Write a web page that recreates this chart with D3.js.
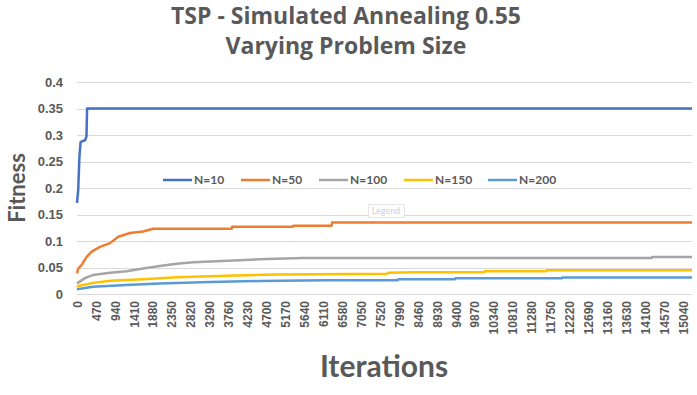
<!DOCTYPE html>
<html lang="en">
<head>
  <meta charset="UTF-8">
  <title>TSP - Simulated Annealing 0.55</title>
  <script src="https://d3js.org/d3.v7.min.js"></script>
  <style>
    body {
      margin: 0;
      background: #fff;
      font-family: Lato, "Open Sans", sans-serif;
    }
    .grid line {
      stroke: #d9d9d9;
      stroke-width: 1;
    }
    .axis text {
      fill: #595959;
      font-weight: bold;
    }
    .series {
      fill: none;
      stroke-width: 2.5;
      stroke-linejoin: round;
    }
    .title {
      font-family: "Open Sans", sans-serif;
      font-size: 23px;
      font-weight: bold;
      fill: #595959;
    }
  </style>
</head>
<body>
  <svg width="697" height="395"></svg>

  <script>
    // series names and colours
    const seriesNames = ['N=10', 'N=50', 'N=100', 'N=150', 'N=200'];
    const seriesColors = ['#4472c4', '#ed7d31', '#a5a5a5', '#ffc000', '#5b9bd5'];

    // values (iteration, fitness)
    const n10Iter = [0, 30, 60, 90, 200, 235, 250, 15260];
    const n10Fit = [0.172, 0.196, 0.259, 0.287, 0.290, 0.297, 0.350, 0.350];

    const n50Iter = [0, 30, 117, 240, 365, 570, 820, 1025, 1315, 1640, 1890, 3840, 3850, 5360, 5370, 6320, 6330, 15260];
    const n50Fit = [0.039, 0.048, 0.055, 0.070, 0.080, 0.089, 0.096, 0.108, 0.115, 0.118, 0.123, 0.123, 0.127, 0.127, 0.129, 0.129, 0.135, 0.135];

    const n100Iter = [0, 200, 400, 820, 1230, 1640, 2050, 2480, 2880, 3470, 4710, 5610, 7530, 14260, 14270, 15260];
    const n100Fit = [0.020, 0.030, 0.036, 0.040, 0.043, 0.048, 0.053, 0.057, 0.060, 0.062, 0.066, 0.068, 0.068, 0.068, 0.070, 0.070];

    const n150Iter = [0, 30, 400, 820, 1640, 2480, 3710, 4950, 7700, 7720, 8350, 10100, 10110, 11640, 11650, 15260];
    const n150Fit = [0.013, 0.015, 0.021, 0.025, 0.028, 0.0315, 0.0345, 0.037, 0.038, 0.040, 0.041, 0.041, 0.043, 0.043, 0.045, 0.045];

    const n200Iter = [0, 400, 1230, 2050, 3300, 4540, 6200, 7960, 7970, 9380, 9390, 12030, 12040, 15260];
    const n200Fit = [0.009, 0.0138, 0.017, 0.020, 0.0226, 0.0245, 0.026, 0.026, 0.028, 0.028, 0.0295, 0.0295, 0.031, 0.031];

    const yTicks = [0, 0.05, 0.1, 0.15, 0.2, 0.25, 0.3, 0.35, 0.4];
    const xTicks = d3.range(0, 15041, 470);

    const allIter = [n10Iter, n50Iter, n100Iter, n150Iter, n200Iter];
    const allFit = [n10Fit, n50Fit, n100Fit, n150Fit, n200Fit];

    const svg = d3.select('svg');
    const plot = { left: 77, right: 692, top: 82, bottom: 294 };

    const x = d3.scaleLinear()
      .domain([0, 15260])
      .range([plot.left, plot.right]);

    const y = d3.scaleLinear()
      .domain([0, 0.4])
      .range([plot.bottom, plot.top]);

    // titles
    svg.append('text')
      .attr('class', 'title')
      .attr('x', 346).attr('y', 24)
      .attr('text-anchor', 'middle')
      .text('TSP - Simulated Annealing 0.55');

    svg.append('text')
      .attr('class', 'title')
      .attr('x', 346).attr('y', 54)
      .attr('text-anchor', 'middle')
      .text('Varying Problem Size');

    // gridlines
    svg.append('g')
      .attr('class', 'grid')
      .selectAll('line')
      .data(yTicks)
      .enter()
      .append('line')
      .attr('x1', plot.left)
      .attr('x2', plot.right)
      .attr('y1', d => Math.round(y(d)) + 0.5)
      .attr('y2', d => Math.round(y(d)) + 0.5);

    // y axis
    const yAxis = d3.axisLeft(y)
      .tickValues(yTicks)
      .tickSize(0)
      .tickPadding(14)
      .tickFormat(d => d3.format('')(+d.toFixed(2)));

    svg.append('g')
      .attr('class', 'axis')
      .attr('transform', `translate(${plot.left}, 0)`)
      .call(yAxis)
      .call(g => g.select('.domain').remove())
      .selectAll('text')
      .style('font-size', '13px');

    // x axis
    const xAxis = d3.axisBottom(x)
      .tickValues(xTicks)
      .tickSize(0)
      .tickFormat(d3.format('d'));

    svg.append('g')
      .attr('class', 'axis')
      .attr('transform', `translate(0, ${plot.bottom})`)
      .call(xAxis)
      .call(g => g.select('.domain').remove())
      .selectAll('text')
      .style('font-size', '12px')
      .attr('text-anchor', 'end')
      .attr('transform', 'rotate(-90)')
      .attr('x', -7)
      .attr('y', 0)
      .attr('dy', '0.35em');

    // lines
    const line = d3.line()
      .x(d => x(d[0]))
      .y(d => y(d[1]));

    const lineData = allIter.map((iters, i) => iters.map((it, j) => [it, allFit[i][j]]));

    svg.selectAll('.series')
      .data(lineData.slice().reverse())
      .enter()
      .append('path')
      .attr('class', 'series')
      .attr('stroke', (d, i) => seriesColors[seriesColors.length - 1 - i])
      .attr('d', line);

    // legend
    const legendX = [163, 241, 319, 404, 488];
    const legend = svg.append('g')
      .selectAll('g')
      .data(seriesNames)
      .enter()
      .append('g')
      .attr('transform', (d, i) => `translate(${legendX[i]}, 180)`);

    legend.append('line')
      .attr('x1', 0).attr('x2', 29)
      .attr('stroke', (d, i) => seriesColors[i])
      .attr('stroke-width', 2.5);

    legend.append('text')
      .attr('x', 31)
      .attr('dy', '0.35em')
      .attr('fill', '#595959')
      .style('font-size', '12px')
      .style('font-weight', 'bold')
      .text(d => d);

    // hover tooltip left in the screenshot
    svg.append('rect')
      .attr('x', 368.5).attr('y', 204.5)
      .attr('width', 36).attr('height', 13)
      .attr('fill', '#fff')
      .attr('stroke', '#e6e6e6');

    svg.append('text')
      .attr('x', 386).attr('y', 214)
      .attr('text-anchor', 'middle')
      .attr('fill', '#d0d0d0')
      .style('font-size', '9px')
      .text('Legend');

    // axis titles
    svg.append('text')
      .attr('transform', 'translate(25, 188) rotate(-90)')
      .attr('text-anchor', 'middle')
      .attr('fill', '#595959')
      .style('font-size', '22px')
      .style('font-weight', 'bold')
      .text('Fitness');

    svg.append('text')
      .attr('x', 384).attr('y', 377)
      .attr('text-anchor', 'middle')
      .attr('fill', '#595959')
      .style('font-size', '30px')
      .style('font-weight', 'bold')
      .text('Iterations');
  </script>
</body>
</html>
